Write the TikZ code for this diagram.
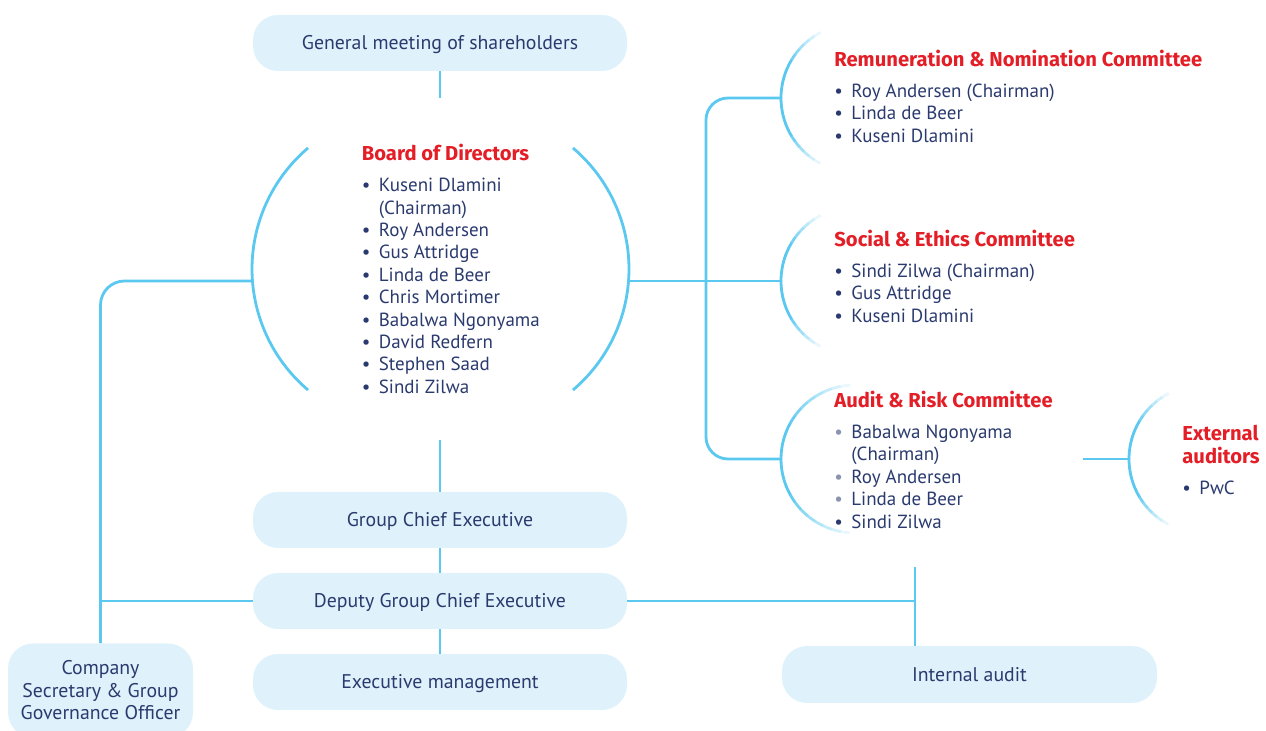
\documentclass[tikz,border=0pt]{standalone}
\usepackage{fontspec}
\setmainfont{PT Sans}
\newfontfamily\titlefont{Fira Sans}
\usetikzlibrary{calc}
\definecolor{boxfill}{HTML}{DFF2FB}
\definecolor{lineblue}{HTML}{5BC8F0}
\definecolor{navy}{HTML}{2A3A6E}
\definecolor{titlered}{HTML}{E31E26}
\newcommand\bodysize{\fontsize{9.5}{11.2}\selectfont}
\newcommand\boxsize{\fontsize{9.9}{11.25}\selectfont}
\newcommand\grptitle[1]{\multicolumn{2}{@{}l@{}}{\textcolor{titlered}{\titlefont\fontsize{10.1}{11.2}\selectfont\bfseries #1}}}
\newcommand\bul{\makebox[8.5pt][l]{\textbullet}}
\newcommand\lbul{\makebox[8.5pt][l]{\textcolor{navy!55}{\textbullet}}}
% fading arc: centre x, centre y, half span (deg)
\newcommand\fadearc[3]{%
  \foreach \k in {0,...,23}{%
    \pgfmathsetmacro\aa{180-#3+\k*#3/12}%
    \pgfmathsetmacro\ab{\aa+#3/12+0.4}%
    \pgfmathsetmacro\dd{abs(\aa+#3/24-180)}%
    \pgfmathtruncatemacro\pp{ifthenelse(\dd<28,100,max(8,100-92*(\dd-28)/(#3-28)))}%
    \draw[line width=1.4pt, draw=lineblue!\pp!white] (#1,#2) ++(\aa:74) arc[start angle=\aa, end angle=\ab, radius=74];
  }%
}
\begin{document}
\begin{tikzpicture}[x=0.5pt,y=-0.5pt,
  conn/.style={draw=lineblue,line width=1.4pt},
  orgbox/.style={fill=boxfill,rounded corners=12.5pt,text=navy,font=\boxsize,
    minimum width=187pt,minimum height=28pt,inner sep=0pt,align=center,
    text height=6.7pt,text depth=0pt},
  grouptext/.style={anchor=base west,inner sep=0pt,text=navy,font=\bodysize},
]
\useasboundingbox (0,0) rectangle (1266,731);

% boxes
\node[orgbox] (gm)  at (440,43)  {General meeting of shareholders};
\node[orgbox] (gce) at (440,520) {Group Chief Executive};
\node[orgbox] (dep) at (440,601) {Deputy Group Chief Executive};
\node[orgbox] (em)  at (440,682) {Executive management};
\node[orgbox,minimum width=187.5pt,minimum height=28.5pt] (ia) at (969.5,674.5) {Internal audit};
\node[orgbox,minimum width=92.5pt,minimum height=47pt,text height=,text depth=] (csec) at (100.5,690.5)
  {Company\\Secretary \& Group\\Governance Officer};

% board text
\node[grouptext] (bod) at (361.5,160.7) {\begin{tabular}[t]{@{}l@{}l@{}}
\grptitle{Board of Directors}\\[4.3pt]
\bul & Kuseni Dlamini\\
 & (Chairman)\\
\bul & Roy Andersen\\
\bul & Gus Attridge\\
\bul & Linda de Beer\\
\bul & Chris Mortimer\\
\bul & Babalwa Ngonyama\\
\bul & David Redfern\\
\bul & Stephen Saad\\
\bul & Sindi Zilwa
\end{tabular}};

% committees
\node[grouptext] (rem) at (834,66.5) {\begin{tabular}[t]{@{}l@{}l@{}}
\grptitle{Remuneration \& Nomination Committee}\\[4.3pt]
\bul & Roy Andersen (Chairman)\\
\bul & Linda de Beer\\
\bul & Kuseni Dlamini
\end{tabular}};
\node[grouptext] (soc) at (834,246.5) {\begin{tabular}[t]{@{}l@{}l@{}}
\grptitle{Social \& Ethics Committee}\\[4.3pt]
\bul & Sindi Zilwa (Chairman)\\
\bul & Gus Attridge\\
\bul & Kuseni Dlamini
\end{tabular}};
\node[grouptext] (aud) at (834,407.5) {\begin{tabular}[t]{@{}l@{}l@{}}
\grptitle{Audit \& Risk Committee}\\[4.3pt]
\lbul & Babalwa Ngonyama\\
 & (Chairman)\\
\lbul & Roy Andersen\\
\lbul & Linda de Beer\\
\bul & Sindi Zilwa
\end{tabular}};
\node[grouptext] (ext) at (1182,440.5) {\begin{tabular}[t]{@{}l@{}l@{}}
\grptitle{External}\\
\grptitle{auditors}\\[4.3pt]
\bul & PwC
\end{tabular}};

% board brackets
\draw[conn] (410.7,269) ++(130.3:158.7) arc[start angle=130.3, end angle=229.7, radius=158.7];
\draw[conn] (470.3,269) ++(-49.7:158.7) arc[start angle=-49.7, end angle=49.7, radius=158.7];

% committee brackets
\fadearc{855}{98}{62}
\fadearc{855}{281}{62}
\fadearc{855}{459}{86}
\fadearc{1203}{459}{62}

% coordinates
\coordinate (gmend) at (440,98);
\coordinate (bodend) at (440,440);
\coordinate (bl) at (252.5,281);
\coordinate (br) at (628.5,281);
\coordinate (remc) at (781,98);
\coordinate (socc) at (781,281);
\coordinate (audc) at (781,459);
\coordinate (vx) at (706,459);
\coordinate (audr) at (1083,459);
\coordinate (extc) at (1129,459);
\coordinate (iatop) at (915,567);

% connectors
\draw[conn] (gm.south) -- (gmend);
\draw[conn] (bodend) -- (gce.north);
\draw[conn] (gce.south) -- (dep.north);
\draw[conn] (dep.south) -- (em.north);
\draw[conn,rounded corners=12pt] (bl) -| (csec.north);
\draw[conn] (dep.west) -- (dep.west -| csec.north);
\draw[conn] (dep.east) -- (dep.east -| iatop);
\draw[conn] (iatop) -- (iatop |- ia.north);
\draw[conn] (br) -- (socc);
\draw[conn,rounded corners=11pt] (remc) -| (vx) -- (audc);
\draw[conn] (audr) -- (extc);
\end{tikzpicture}
\end{document}
